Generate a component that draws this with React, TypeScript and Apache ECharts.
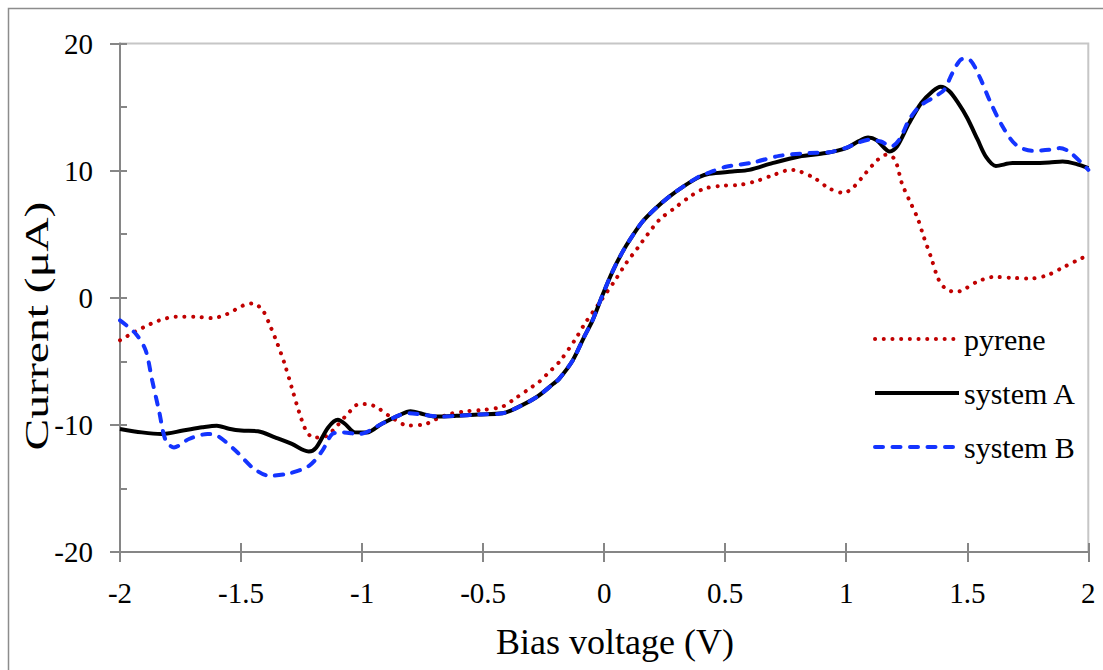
import React, { useEffect, useRef } from "react";
import * as echarts from "echarts";

const xTicks = { min: -2, max: 2, interval: 0.5 };
const yTicks = { min: -20, max: 20, interval: 10, minorInterval: 5 };
const seriesNames = ["pyrene", "system A", "system B"];

const pyrene: number[][] = [
  [-2.0, -3.35], [-1.95, -2.8], [-1.9, -2.3], [-1.84, -1.8], [-1.77, -1.5], [-1.69, -1.5],
  [-1.62, -1.6], [-1.56, -1.3], [-1.49, -0.6], [-1.45, -0.45], [-1.41, -1.0], [-1.38, -2.2],
  [-1.35, -3.6], [-1.32, -5.2], [-1.29, -7.1], [-1.26, -9.0], [-1.23, -10.5], [-1.2, -11.0],
  [-1.15, -10.9], [-1.1, -10.0], [-1.065, -9.25], [-1.01, -8.35], [-0.97, -8.4], [-0.94, -8.6],
  [-0.88, -9.4], [-0.81, -10.05], [-0.74, -9.95], [-0.7, -9.6], [-0.64, -9.15], [-0.57, -8.93],
  [-0.5, -8.82], [-0.42, -8.56], [-0.37, -7.95], [-0.3, -7.04], [-0.27, -6.64], [-0.23, -5.9],
  [-0.186, -5.06], [-0.12, -3.3], [-0.08, -2.04], [-0.02, -0.41], [0.05, 1.51], [0.09, 2.7],
  [0.14, 3.96], [0.18, 5.0], [0.23, 6.17], [0.29, 7.04], [0.35, 7.9], [0.41, 8.56],
  [0.49, 8.82], [0.56, 8.88], [0.63, 9.19], [0.7, 9.66], [0.77, 10.06], [0.8, 10.0],
  [0.87, 9.4], [0.93, 8.6], [0.99, 8.25], [1.03, 8.7], [1.08, 9.8], [1.13, 10.85],
  [1.165, 11.25], [1.2, 10.9], [1.23, 9.0], [1.26, 7.7], [1.295, 6.25], [1.32, 4.8],
  [1.35, 3.2], [1.38, 1.5], [1.41, 0.72], [1.45, 0.46], [1.48, 0.59], [1.54, 1.25],
  [1.61, 1.64], [1.69, 1.56], [1.76, 1.51], [1.83, 1.77], [1.9, 2.43], [1.96, 3.0], [2.0, 3.35],
];

const systemA: number[][] = [
  [-2.0, -10.32], [-1.91, -10.59], [-1.83, -10.72], [-1.74, -10.45], [-1.66, -10.19], [-1.6, -10.06],
  [-1.55, -10.3], [-1.5, -10.45], [-1.43, -10.5], [-1.36, -10.98], [-1.29, -11.5], [-1.24, -12.0],
  [-1.22, -12.1], [-1.19, -11.8], [-1.14, -10.2], [-1.1, -9.6], [-1.07, -9.93], [-1.03, -10.59],
  [-0.98, -10.6], [-0.92, -9.93], [-0.85, -9.27], [-0.8, -8.93], [-0.75, -9.14], [-0.7, -9.35],
  [-0.61, -9.29], [-0.52, -9.19], [-0.42, -9.09], [-0.37, -8.74], [-0.28, -7.83], [-0.21, -6.77],
  [-0.186, -6.38], [-0.13, -4.93], [-0.083, -3.09], [-0.048, -1.78], [-0.007, 0.2], [0.034, 2.04],
  [0.076, 3.61], [0.11, 4.67], [0.158, 5.98], [0.213, 7.04], [0.269, 7.95], [0.331, 8.8],
  [0.393, 9.5], [0.434, 9.75], [0.53, 9.93], [0.6, 10.06], [0.695, 10.59], [0.806, 11.11],
  [0.916, 11.38], [1.0, 11.77], [1.05, 12.3], [1.09, 12.6], [1.125, 12.4], [1.18, 11.5],
  [1.21, 11.9], [1.26, 13.74], [1.31, 15.32], [1.357, 16.24], [1.39, 16.6], [1.426, 16.24],
  [1.467, 15.19], [1.5, 14.14], [1.543, 12.43], [1.577, 11.1], [1.618, 10.37], [1.687, 10.59],
  [1.763, 10.59], [1.839, 10.63], [1.894, 10.72], [1.949, 10.53], [2.0, 10.19],
];

const systemB: number[][] = [
  [-2.0, -1.78], [-1.935, -2.83], [-1.894, -4.14], [-1.867, -6.51], [-1.839, -8.88], [-1.811, -11.24],
  [-1.777, -11.77], [-1.715, -11.11], [-1.639, -10.72], [-1.598, -10.85], [-1.522, -12.03], [-1.453, -13.35],
  [-1.384, -14.0], [-1.302, -13.82], [-1.219, -13.22], [-1.164, -12.03], [-1.123, -10.72], [-1.081, -10.59],
  [-1.012, -10.72], [-0.92, -9.93], [-0.85, -9.27], [-0.806, -9.09], [-0.75, -9.2], [-0.668, -9.35],
  [-0.61, -9.29], [-0.52, -9.19], [-0.42, -9.09], [-0.37, -8.74], [-0.28, -7.83], [-0.21, -6.77],
  [-0.186, -6.38], [-0.13, -4.93], [-0.083, -3.09], [-0.048, -1.78], [-0.007, 0.2], [0.034, 2.04],
  [0.076, 3.61], [0.11, 4.67], [0.158, 5.98], [0.213, 7.04], [0.269, 7.95], [0.331, 8.8],
  [0.393, 9.55], [0.434, 9.85], [0.503, 10.3], [0.613, 10.63], [0.723, 11.16], [0.847, 11.38],
  [0.93, 11.45], [1.0, 11.8], [1.05, 12.2], [1.095, 12.43], [1.143, 12.29], [1.185, 11.9],
  [1.219, 12.43], [1.26, 14.0], [1.302, 15.05], [1.357, 15.72], [1.405, 16.37], [1.439, 17.69],
  [1.481, 18.79], [1.508, 18.74], [1.55, 17.42], [1.591, 15.58], [1.646, 13.47], [1.701, 12.03],
  [1.77, 11.56], [1.839, 11.64], [1.88, 11.77], [1.921, 11.5], [2.0, 10.06],
];

const FONT = "Liberation Serif, Times New Roman, serif";
const AXIS_COLOR = "#868686";

export default function App() {
  const ref = useRef<HTMLDivElement>(null);
  useEffect(() => {
    if (!ref.current) return;
    const chart = echarts.init(ref.current, undefined, { renderer: "svg" });
    const axisLineStyle = { color: AXIS_COLOR, width: 2 };
    chart.setOption({
      animation: false,
      backgroundColor: "#ffffff",
      textStyle: { fontFamily: FONT },
      grid: {
        left: 120,
        right: 14.7,
        top: 43.5,
        bottom: 118,
        show: true,
        borderColor: "#c6c6c6",
        borderWidth: 2,
        backgroundColor: "transparent",
      },
      legend: {
        orient: "vertical",
        left: 873,
        top: 324,
        padding: 0,
        itemWidth: 84,
        itemHeight: 30,
        itemGap: 24,
        data: seriesNames,
        itemStyle: { opacity: 0 },
        lineStyle: { width: 4 },
        textStyle: { fontFamily: FONT, fontSize: 30, color: "#000", lineHeight: 30 },
      },
      xAxis: [
        {
          type: "value",
          min: xTicks.min,
          max: xTicks.max,
          interval: xTicks.interval,
          position: "bottom",
          axisLine: { show: true, onZero: false, lineStyle: axisLineStyle },
          axisTick: { show: true, inside: false, length: 10, lineStyle: axisLineStyle },
          axisLabel: { fontFamily: FONT, fontSize: 29, color: "#000", margin: 26 },
          splitLine: { show: false },
        },
        {
          type: "value",
          min: xTicks.min,
          max: xTicks.max,
          interval: xTicks.interval,
          position: "bottom",
          axisLine: { show: false, onZero: false },
          axisTick: { show: true, inside: true, length: 9, lineStyle: axisLineStyle },
          axisLabel: { show: false },
          splitLine: { show: false },
        },
      ],
      yAxis: [
        {
          type: "value",
          min: yTicks.min,
          max: yTicks.max,
          interval: yTicks.interval,
          position: "left",
          axisLine: { show: true, onZero: false, lineStyle: axisLineStyle },
          axisTick: { show: true, inside: false, length: 10, lineStyle: axisLineStyle },
          axisLabel: { fontFamily: FONT, fontSize: 29, color: "#000", margin: 27 },
          splitLine: { show: false },
        },
        {
          type: "value",
          min: yTicks.min,
          max: yTicks.max,
          interval: yTicks.minorInterval,
          position: "left",
          axisLine: { show: false, onZero: false },
          axisTick: { show: true, inside: true, length: 7, lineStyle: axisLineStyle },
          axisLabel: { show: false },
          splitLine: { show: false },
        },
      ],
      graphic: [
        {
          type: "rect",
          silent: true,
          shape: { x: 8.5, y: 8.5, width: 1300, height: 900 },
          style: { fill: "none", stroke: "#8c8c8c", lineWidth: 1.5 },
        },
        {
          type: "text",
          x: 36,
          y: 326,
          rotation: Math.PI / 2,
          scaleX: 1.4,
          style: {
            text: "Current (μA)",
            fontFamily: FONT,
            fontSize: 34,
            fill: "#000",
            align: "center",
            verticalAlign: "middle",
          },
        },
        {
          type: "text",
          x: 615,
          y: 642,
          style: {
            text: "Bias voltage (V)",
            fontFamily: FONT,
            fontSize: 36,
            fill: "#000",
            align: "center",
            verticalAlign: "middle",
          },
        },
      ],
      series: [
        {
          name: seriesNames[0],
          type: "line",
          data: pyrene,
          smooth: 0.3,
          symbol: "none",
          showSymbol: false,
          lineStyle: { color: "#c00000", width: 4, type: [0.1, 8.6], cap: "round" },
          itemStyle: { color: "#c00000" },
        },
        {
          name: seriesNames[1],
          type: "line",
          data: systemA,
          smooth: 0.3,
          symbol: "none",
          showSymbol: false,
          lineStyle: { color: "#000000", width: 4 },
          itemStyle: { color: "#000000" },
        },
        {
          name: seriesNames[2],
          type: "line",
          data: systemB,
          smooth: 0.3,
          symbol: "none",
          showSymbol: false,
          lineStyle: { color: "#1434ff", width: 4, type: [8, 9.5], cap: "round" },
          itemStyle: { color: "#1434ff" },
        },
      ],
    });
    return () => chart.dispose();
  }, []);
  return (
    <div
      ref={ref}
      style={{ position: "fixed", left: 0, top: 0, width: "1103px", height: "670px" }}
    />
  );
}
